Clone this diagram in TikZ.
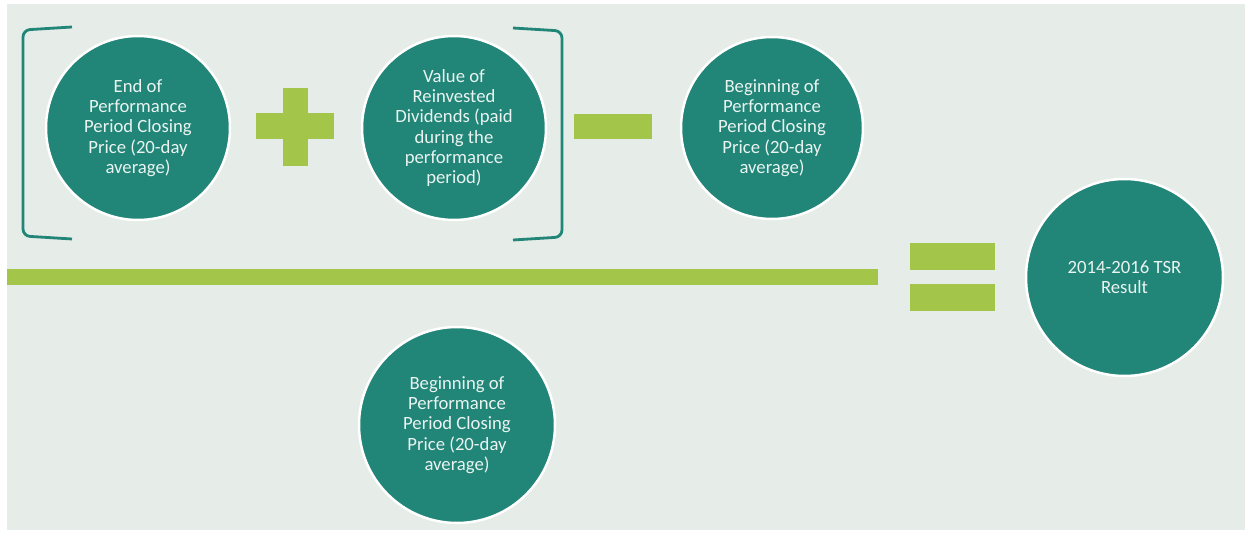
\documentclass[tikz,border=0pt]{standalone}
\usepackage{fontspec}
\setmainfont{Carlito}

\definecolor{tsrteal}{HTML}{218578}
\definecolor{tsrgreen}{HTML}{A3C64A}
\definecolor{tsrback}{HTML}{E6ECE8}
\definecolor{tsrtext}{HTML}{EAF4F0}

\tikzset{
  tsrcircle/.style={circle,fill=tsrteal,draw=white,line width=2.5pt,
    inner sep=0pt,text=tsrtext,align=center,
    font=\fontsize{18.7}{20.3}\selectfont},
  tsrbracket/.style={draw=tsrteal,line width=2.8pt,rounded corners=7pt},
  tsrbar/.style={fill=tsrgreen}
}

\begin{document}
\begin{tikzpicture}[x=1pt,y=-1pt]

% Page and its light background
\useasboundingbox (0,0) rectangle (1251,534);
\fill[white] (0,0) rectangle (1251,534);
\fill[tsrback] (7,4) rectangle (1245,530);

% The brackets round the numerator sum
% Draw these first so the circles sit on top
\draw[tsrbracket] (72,27) -- (23,30) -- (23,236) -- (72,239);
\draw[tsrbracket] (513,28) -- (562,31) -- (562,237) -- (513,240);

% The circles and their texts
\node[tsrcircle,minimum size=184pt] (endprice) at (138,128)
  {End of\\Performance\\Period Closing\\Price (20-day\\average)};
\node[tsrcircle,minimum size=184pt] (dividends) at (454,128)
  {Value of\\Reinvested\\Dividends (paid\\during the\\performance\\period)};
\node[tsrcircle,minimum size=182pt] (beginprice) at (772,128)
  {Beginning of\\Performance\\Period Closing\\Price (20-day\\average)};
\node[tsrcircle,minimum size=196pt] (beginbelow) at (457,425)
  {Beginning of\\Performance\\Period Closing\\Price (20-day\\average)};
\node[tsrcircle,minimum size=197pt] (result) at (1124.5,277.5)
  {2014-2016 TSR\\Result};

% The plus and the minus
\fill[tsrbar] (283,88) rectangle (308,166);
\fill[tsrbar] (256,113) rectangle (334,139);
\fill[tsrbar] (574,114) rectangle (652,139);

% The fraction bar
\fill[tsrbar] (7,269) rectangle (878,285);

% The equals sign
\fill[tsrbar] (910,243) rectangle (995,270);
\fill[tsrbar] (910,284) rectangle (995,311);

\end{tikzpicture}
\end{document}
